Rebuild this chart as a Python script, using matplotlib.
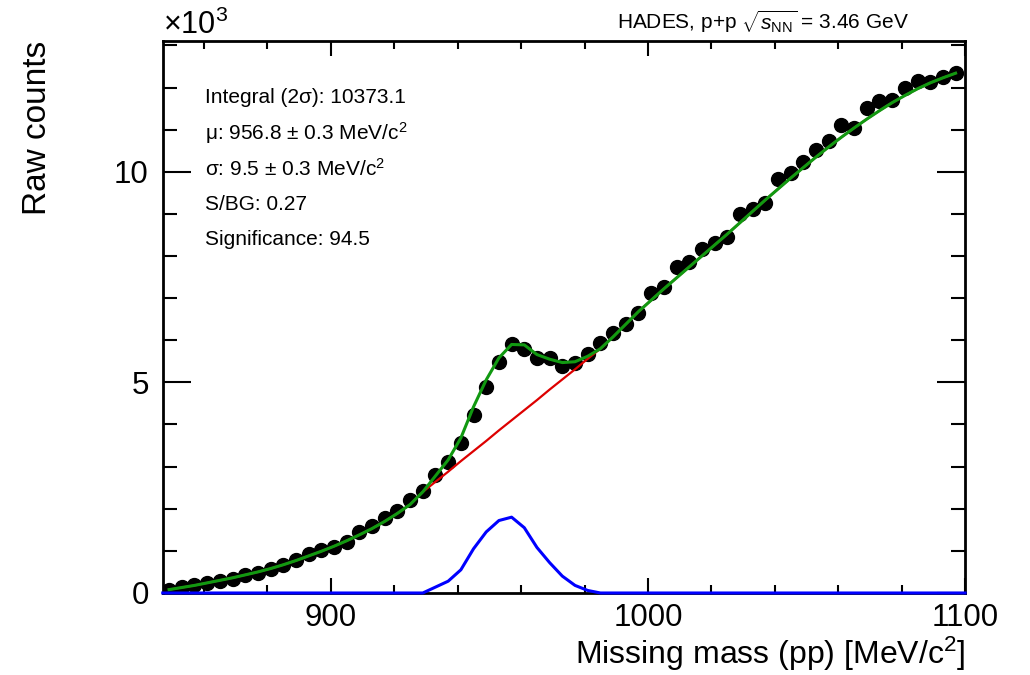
import matplotlib
matplotlib.use("Agg")
import matplotlib.pyplot as plt
from matplotlib.ticker import MultipleLocator, FuncFormatter

plt.rcParams['font.family'] = ['Liberation Sans', 'DejaVu Sans']
plt.rcParams['mathtext.fontset'] = 'custom'
plt.rcParams['mathtext.rm'] = 'Liberation Sans'
plt.rcParams['mathtext.it'] = 'Liberation Sans:italic'

# bin centres [MeV/c^2], 4 MeV bins
mass = list(range(849, 1098, 4))

# raw counts (x10^3)
counts = [0.06, 0.15, 0.19, 0.23, 0.28, 0.33, 0.42, 0.47, 0.58, 0.67,
          0.78, 0.92, 1.02, 1.10, 1.22, 1.45, 1.58, 1.77, 1.94, 2.21,
          2.41, 2.80, 3.12, 3.56, 4.23, 4.90, 5.49, 5.91, 5.79, 5.57,
          5.57, 5.40, 5.45, 5.67, 5.93, 6.18, 6.39, 6.64, 7.13, 7.26,
          7.74, 7.85, 8.16, 8.31, 8.45, 9.00, 9.11, 9.27, 9.83, 9.98,
          10.22, 10.52, 10.74, 11.12, 11.04, 11.51, 11.67, 11.71, 11.99, 12.15,
          12.12, 12.25, 12.34]

# background fit (red), x10^3
background = [0.08, 0.13, 0.18, 0.24, 0.30, 0.36, 0.43, 0.50, 0.58, 0.67,
              0.77, 0.88, 0.99, 1.11, 1.24, 1.38, 1.53, 1.70, 1.89, 2.10,
              2.40, 2.64, 2.88, 3.13, 3.37, 3.61, 3.86, 4.10, 4.34, 4.58,
              4.83, 5.07, 5.31, 5.56, 5.80, 6.08, 6.38, 6.68, 6.95, 7.22,
              7.48, 7.74, 8.00, 8.26, 8.52, 8.79, 9.06, 9.33, 9.59, 9.85,
              10.10, 10.35, 10.59, 10.82, 11.04, 11.25, 11.45, 11.64, 11.81, 11.97,
              12.11, 12.23, 12.34]

# signal (blue), x10^3
signal = [0.0] * 20 + [0.0, 0.14, 0.28, 0.55, 1.05, 1.45, 1.72, 1.80, 1.55, 1.08,
                       0.72, 0.40, 0.18, 0.06] + [0.0] * 29

total = [b + s for b, s in zip(background, signal)]

fig = plt.figure(figsize=(10.3, 6.75), dpi=100)
ax = fig.add_axes([0.158, 0.1215, 0.779, 0.8175])

ax.plot(mass, counts, 'o', color='black', markersize=10, zorder=2)
ax.plot(mass, background, color='#dd0000', lw=1.6, zorder=3)
ax.plot(mass, total, color='#119911', lw=2.2, zorder=4)
ax.plot([847] + mass + [1100], [0] + signal + [0], color='#0000ff', lw=2.2, zorder=5, clip_on=False)

ax.set_xlim(847, 1100)
ax.set_ylim(0, 13.1)

ax.xaxis.set_major_locator(MultipleLocator(100))
ax.xaxis.set_minor_locator(MultipleLocator(20))
ax.yaxis.set_major_locator(MultipleLocator(5))
ax.yaxis.set_minor_locator(MultipleLocator(1))
ax.yaxis.set_major_formatter(FuncFormatter(lambda v, p: '%d' % v))

ax.tick_params(which='both', direction='in', top=True, right=True, width=1.5, labelsize=22.5)
ax.tick_params(axis='x', which='major', length=11, pad=7)
ax.tick_params(axis='x', which='minor', length=6)
ax.tick_params(axis='y', which='major', length=20, pad=10)
ax.tick_params(axis='y', which='minor', length=10)
for s in ax.spines.values():
    s.set_linewidth(2)

ax.set_xlabel('Missing mass (pp) [MeV/c$^{2}$]', fontsize=23, ha='right', va='center')
ax.xaxis.set_label_coords(1.0, -0.11)
ax.set_ylabel('Raw counts', fontsize=24, ha='right', va='center')
ax.yaxis.set_label_coords(-0.156, 1.0)

fig.text(0.158, 0.94, r'$\times$10$^{3}$', fontsize=22, ha='left', va='bottom')
fig.text(0.599, 0.968, r'HADES, p+p $\sqrt{s_{\mathrm{NN}}}$ = 3.46 GeV', fontsize=15, ha='left', va='center')

info = ['Integral (2\u03c3): 10373.1',
        '\u03bc: 956.8 \u00b1 0.3 MeV/c$^{2}$',
        '\u03c3: 9.5 \u00b1 0.3 MeV/c$^{2}$',
        'S/BG: 0.27',
        'Significance: 94.5']
for i, line in enumerate(info):
    fig.text(0.199, 0.855 - i * 0.0525, line, fontsize=15, ha='left', va='center')

fig.savefig('out.png', dpi=100)
